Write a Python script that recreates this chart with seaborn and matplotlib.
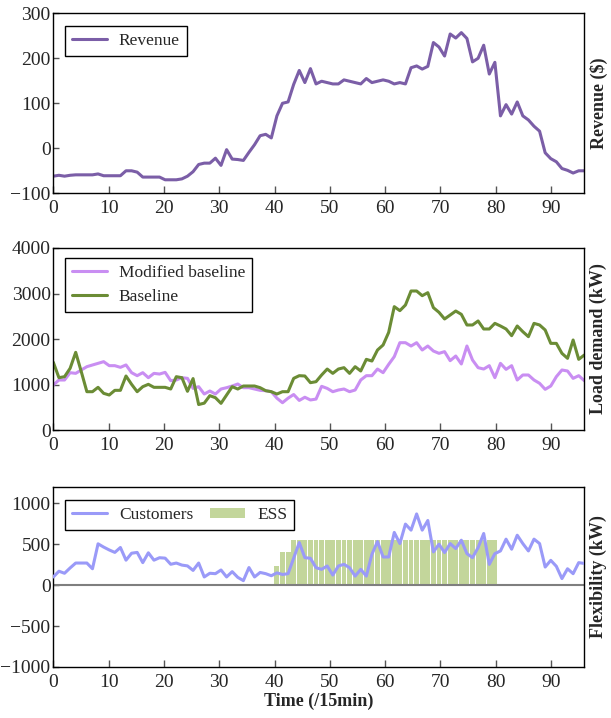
import numpy as np
import pandas as pd
import matplotlib
matplotlib.use("Agg")
import matplotlib.pyplot as plt
import seaborn as sns

# ---------------- data ----------------
n_steps = 96
time_idx = np.linspace(0, 96, n_steps)   # time axis position of each 15-min step

revenue = [-62, -60, -62, -60, -59, -59, -59, -59, -57, -61,
           -61, -61, -61, -50, -50, -53, -64, -64, -64, -64,
           -70, -70, -70, -68, -62, -52, -36, -33, -33, -22,
           -38, -3, -24, -25, -27, -9, 8, 28, 31, 23,
           72, 100, 103, 142, 173, 146, 177, 143, 149, 146,
           143, 143, 152, 149, 146, 143, 155, 146, 149, 152,
           149, 143, 146, 143, 179, 183, 176, 182, 235, 225,
           205, 254, 245, 257, 244, 192, 200, 229, 165, 191,
           72, 97, 76, 103, 72, 63, 49, 38, -10, -23,
           -30, -45, -49, -55, -50, -50]

modified_baseline = [989, 1099, 1099, 1260, 1245, 1319, 1392, 1429, 1465, 1502,
                     1414, 1414, 1377, 1430, 1260, 1194, 1260, 1150, 1245, 1230,
                     1267, 1084, 1099, 1150, 1135, 915, 952, 791, 857, 791,
                     901, 930, 967, 1011, 930, 930, 901, 872, 864, 842,
                     700, 600, 700, 780, 650, 720, 660, 680, 960, 915,
                     842, 879, 901, 842, 879, 1099, 1194, 1194, 1340, 1260,
                     1443, 1612, 1919, 1919, 1846, 1919, 1758, 1846, 1736, 1685,
                     1722, 1524, 1626, 1451, 1846, 1538, 1370, 1340, 1414, 1150,
                     1465, 1333, 1414, 1099, 1209, 1209, 1099, 1026, 894, 967,
                     1172, 1319, 1297, 1135, 1194, 1084]

baseline = [1487, 1150, 1172, 1355, 1707, 1282, 842, 842, 938, 806,
            769, 872, 872, 1187, 1004, 842, 952, 1004, 938, 938,
            938, 901, 1172, 1150, 850, 1130, 560, 590, 755, 710,
            586, 769, 952, 901, 967, 967, 967, 930, 864, 842,
            791, 842, 842, 1135, 1194, 1187, 1040, 1062, 1209, 1340,
            1245, 1340, 1370, 1245, 1392, 1297, 1553, 1516, 1758, 1868,
            2146, 2711, 2623, 2747, 3055, 3055, 2952, 3018, 2689, 2586,
            2440, 2527, 2615, 2542, 2308, 2308, 2396, 2220, 2220, 2344,
            2286, 2220, 2073, 2286, 2161, 2051, 2344, 2308, 2198, 1904,
            1904, 1685, 1575, 1978, 1553, 1648]

customers = [100, 170, 145, 210, 270, 270, 270, 200, 505, 465,
             430, 400, 460, 305, 390, 400, 275, 395, 305, 335,
             330, 255, 270, 245, 235, 180, 270, 100, 145, 140,
             185, 100, 165, 95, 55, 215, 100, 155, 140, 115,
             150, 130, 140, 330, 520, 336, 328, 213, 193, 234,
             123, 234, 254, 213, 110, 193, 110, 377, 533, 344,
             344, 644, 508, 746, 672, 870, 672, 790, 406, 500,
             398, 508, 447, 549, 385, 336, 459, 631, 254, 385,
             418, 562, 439, 610, 508, 418, 562, 508, 221, 303,
             230, 80, 200, 140, 275, 265]

ess = [0] * 40 + [234, 406, 406] + [553] * 37 + [0] * 16

x_ticks = [0, 10, 20, 30, 40, 50, 60, 70, 80, 90]
rev_ticks = [-100, 0, 100, 200, 300]
load_ticks = [0, 1000, 2000, 3000, 4000]
flex_ticks = [-1000, -500, 0, 500, 1000]

df = pd.DataFrame({"t": time_idx, "Revenue": revenue,
                   "Modified baseline": modified_baseline, "Baseline": baseline,
                   "Customers": customers, "ESS": ess})

# ---------------- style ----------------
sns.set_style("white")
plt.rcParams["font.family"] = ["Liberation Serif", "DejaVu Serif"]

fig = plt.figure(figsize=(6.11, 7.18), dpi=100)
L, W = 0.0873, 0.869
ax1 = fig.add_axes([L, 0.7308, W, 0.2507])
ax2 = fig.add_axes([L, 0.4011, W, 0.2535])
ax3 = fig.add_axes([L, 0.0711, W, 0.2507])

c_rev = "#7b5ea7"
c_mod = "#c98ef2"
c_base = "#6b8c35"
c_cust = "#9a9af8"
c_ess = "#c3d69b"

# Revenue
sns.lineplot(data=df, x="t", y="Revenue", ax=ax1, color=c_rev, lw=2.2, label="Revenue")
ax1.set_ylim(-100, 300)
ax1.set_yticks(rev_ticks)
ax1.set_ylabel("Revenue ($)")

# Load demand
sns.lineplot(data=df, x="t", y="Modified baseline", ax=ax2, color=c_mod, lw=2.2,
             label="Modified baseline")
sns.lineplot(data=df, x="t", y="Baseline", ax=ax2, color=c_base, lw=2.2, label="Baseline")
ax2.set_ylim(0, 4000)
ax2.set_yticks(load_ticks)
ax2.set_ylabel("Load demand (kW)")

# Flexibility
ax3.bar(df["t"], df["ESS"], width=0.88, color=c_ess, linewidth=0, label="ESS", zorder=1)
ax3.axhline(0, color="#7f7f7f", lw=1.5, zorder=2)
sns.lineplot(data=df, x="t", y="Customers", ax=ax3, color=c_cust, lw=2.2,
             label="Customers", zorder=3)
ax3.set_ylim(-1000, 1200)
ax3.set_yticks(flex_ticks)
ax3.set_ylabel("Flexibility (kW)")
ax3.set_xlabel("Time (/15min)", fontsize=13, fontweight="bold", labelpad=1)

for ax in (ax1, ax2, ax3):
    ax.set_xlim(0, 96)
    ax.set_xticks(x_ticks)
    ax.set_xticklabels([str(v) for v in x_ticks])
    if ax is not ax3:
        ax.set_xlabel("")
    for s in ax.spines.values():
        s.set_color("black")
        s.set_linewidth(1.0)
    ax.tick_params(axis="x", direction="in", length=5, width=1, color="#555555",
                   labelsize=14, pad=5, bottom=True)
    ax.tick_params(axis="y", direction="in", length=4, width=1, color="#555555",
                   labelsize=14, pad=2, left=True)
    ax.yaxis.set_label_position("right")
    ax.yaxis.label.set_fontsize(13)
    ax.yaxis.label.set_fontweight("bold")
    ax.yaxis.labelpad = 4

# legends
common = dict(loc="upper left", fontsize=12.5, frameon=True, fancybox=False,
              edgecolor="black", framealpha=1, handlelength=2.0, borderpad=0.4,
              borderaxespad=0, handletextpad=0.7)
leg1 = ax1.legend(bbox_to_anchor=(0.022, 0.93), **common)
leg2 = ax2.legend(bbox_to_anchor=(0.022, 0.945), labelspacing=0.45, **common)
h, l = ax3.get_legend_handles_labels()
order = [l.index("Customers"), l.index("ESS")]
leg3 = ax3.legend([h[i] for i in order], [l[i] for i in order],
                  bbox_to_anchor=(0.022, 0.928), ncol=2, columnspacing=1.0,
                  handleheight=0.5, **common)
for lg in (leg1, leg2, leg3):
    lg.get_frame().set_linewidth(1.0)

fig.savefig("out.png", dpi=100)
